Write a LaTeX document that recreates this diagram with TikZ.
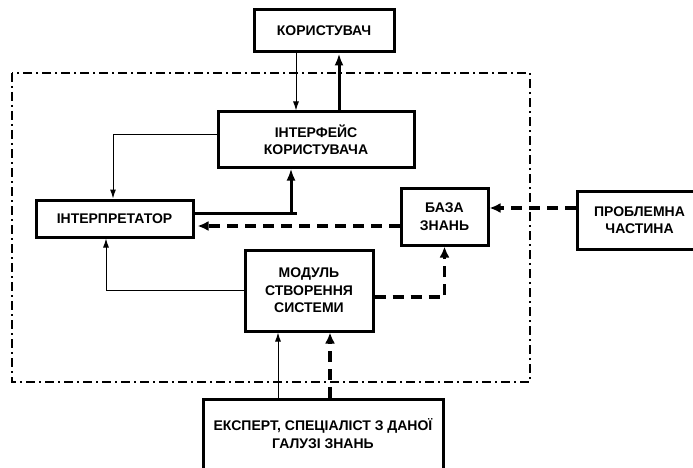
\documentclass[tikz,border=0pt]{standalone}
\usepackage{fontspec}
\setmainfont{Liberation Sans}
\usetikzlibrary{arrows.meta}
\begin{document}
\begin{tikzpicture}[x=1pt,y=-1pt,
  txt/.style={align=center,inner sep=0pt,font=\fontsize{14}{17.5}\selectfont\bfseries},
  box/.style={txt,draw,line width=3pt},
  thinarrow/.style={line width=1pt,-{Latex[length=9pt,width=6pt]}},
  thickarrow/.style={line width=3pt,-{Latex[length=12pt,width=9pt]}},
  thickline/.style={line width=3pt},
  dasharrow/.style={line width=3.2pt,dash pattern=on 11pt off 7pt,-{Latex[length=11pt,width=10pt]}},
  frame/.style={line width=1.8pt,dash pattern=on 9pt off 4pt on 2pt off 4pt}]
\useasboundingbox (0,0) rectangle (693,468);
\draw[frame] (12,73) rectangle (530,382);
\node[box,minimum width=140pt,minimum height=42pt] (kor) at (324,31) {КОРИСТУВАЧ};
\node[box,minimum width=196pt,minimum height=55pt] (intf) at (316,139.5) {ІНТЕРФЕЙС\\КОРИСТУВАЧА};
\node[box,minimum width=157pt,minimum height=37pt] (interp) at (114.5,218.5) {ІНТЕРПРЕТАТОР};
\node[box,minimum width=87pt,minimum height=57pt] (baza) at (444.5,216.5) {БАЗА\\ЗНАНЬ};
\node[box,minimum width=125pt,minimum height=58pt] (probl) at (639.5,220) {ПРОБЛЕМНА\\ЧАСТИНА};
\node[box,minimum width=128pt,minimum height=81pt] (modul) at (309,290.5) {МОДУЛЬ\\СТВОРЕННЯ\\СИСТЕМИ};
\node[box,minimum width=240pt,minimum height=76pt] (expert) at (323,437) {};
\node[txt] (experttext) at (323,433.5) {ЕКСПЕРТ, СПЕЦІАЛІСТ З ДАНОЇ\\ГАЛУЗІ ЗНАНЬ};
% user <-> interface
\draw[thinarrow] ([xshift=-28pt]kor.south) -- ([xshift=-20pt]intf.north);
\draw[thickarrow] ([xshift=23pt]intf.north) -- ([xshift=15pt]kor.south);
% interface -> interpreter
\draw[thinarrow] ([yshift=4.5pt]intf.west) -| ([xshift=-1.5pt]interp.north);
% interpreter -> interface
\coordinate (j1) at (291,213);
\draw[thickline] ([yshift=5.5pt]interp.east) -- ([xshift=6pt]j1);
\draw[thickarrow] (j1) -- (j1 |- intf.south);
% knowledge base -> interpreter
\coordinate (d1) at ([yshift=-9.5pt]baza.west);
\draw[dasharrow,shorten >=3pt] (d1) -- (d1 -| interp.east);
% problem -> knowledge base
\coordinate (d2) at ([yshift=12pt]probl.west);
\draw[dasharrow] (d2) -- (d2 -| baza.east);
% module -> interpreter
\draw[thinarrow] (modul.west) -| ([xshift=-8.5pt]interp.south);
% module -> knowledge base
\draw[dasharrow] ([yshift=-6.5pt]modul.east) -| (baza.south);
% expert -> module
\draw[thinarrow] ([xshift=-45pt]expert.north) -- ([xshift=-31pt]modul.south);
\draw[dasharrow] ([xshift=7pt]expert.north) -- ([xshift=21pt]modul.south);
\end{tikzpicture}
\end{document}
